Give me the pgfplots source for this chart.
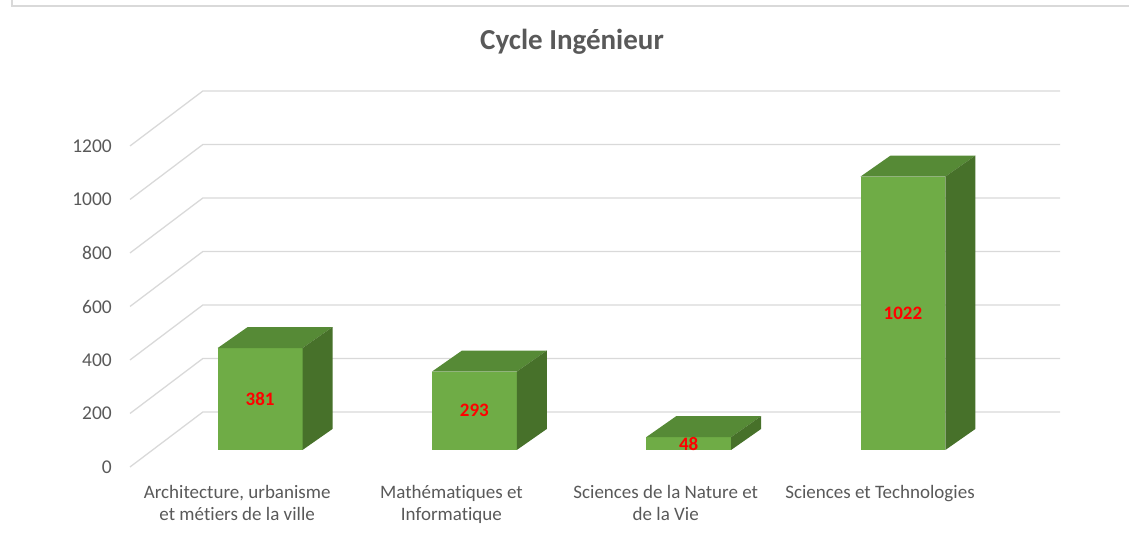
\documentclass[border=0pt]{standalone}
\usepackage{fontspec}
\setmainfont{Carlito}[Ligatures=NoCommon]
\usepackage{pgfplots}
\pgfplotsset{compat=1.18}
\definecolor{txt}{HTML}{595959}
\definecolor{gridc}{HTML}{D9D9D9}
\definecolor{frontc}{HTML}{6FAC46}
\definecolor{topc}{HTML}{568A36}
\definecolor{sidec}{HTML}{47712A}
\begin{document}
\begin{tikzpicture}[x=1pt,y=1pt]
\useasboundingbox (0,0) rectangle (1129,538);
\draw[gridc, line width=1.5pt] (12,538) -- (12,532) -- (1129,532);
\node[txt, font=\fontsize{29}{34}\selectfont\bfseries] at (572,496) {Cycle Ingénieur};
\begin{axis}[
  at={(130pt,71pt)}, anchor=south west,
  scale only axis, width=930pt, height=377.2pt,
  xmin=-0.5, xmax=3.84, ymin=0, ymax=1410,
  clip=false,
  axis line style={draw=none},
  major tick style={draw=none},
  ytick={0,200,400,600,800,1000,1200},
  /pgf/number format/assume math mode=true,
  /pgf/number format/1000 sep={},
  yticklabel style={inner sep=0pt, xshift=-18pt, text=txt, font=\fontsize{19.5}{23}\selectfont},
  xtick={0,1,2,3},
  xticklabels={{Architecture, urbanisme\\et métiers de la ville},{Mathématiques et\\Informatique},{Sciences de la Nature et\\de la Vie},{Sciences et Technologies}},
  xticklabel style={inner sep=0pt, yshift=-18pt, align=center, text=txt, font=\fontsize{19}{22}\selectfont},
]
\foreach \g in {0,200,400,600,800,1000,1200}{
  \pgfmathsetmacro\gb{\g+205.6}
  \edef\temp{\noexpand\addplot[gridc, line width=1.3pt] coordinates {(-0.5,\g) (-0.16,\gb) (3.84,\gb)};}
  \temp
}
\foreach \i/\v in {0/381,1/293,2/48,3/1022}{
  \pgfmathsetmacro\xa{\i-0.091}
  \pgfmathsetmacro\xb{\i+0.305}
  \pgfmathsetmacro\xc{\i+0.445}
  \pgfmathsetmacro\xd{\i+0.049}
  \pgfmathsetmacro\xm{\i+0.107}
  \pgfmathsetmacro\yb{63.6+\v}
  \pgfmathsetmacro\yd{142.1+\v}
  \pgfmathsetmacro\ym{63.6+\v/2}
  \edef\temp{%
    \noexpand\addplot[fill=frontc, draw=none] coordinates {(\xa,63.6) (\xb,63.6) (\xb,\yb) (\xa,\yb)} -- cycle;
    \noexpand\addplot[fill=topc, draw=none] coordinates {(\xa,\yb) (\xb,\yb) (\xc,\yd) (\xd,\yd)} -- cycle;
    \noexpand\addplot[fill=sidec, draw=none] coordinates {(\xb,63.6) (\xc,142.1) (\xc,\yd) (\xb,\yb)} -- cycle;
    \noexpand\addplot[draw=none, mark=none, point meta=explicit symbolic, nodes near coords,
      every node near coord/.style={anchor=center, text=red, font=\noexpand\fontsize{19}{22}\noexpand\selectfont\noexpand\bfseries}]
      coordinates {(\xm,\ym) [\v]};
  }%
  \temp
}
\end{axis}
\end{tikzpicture}
\end{document}
